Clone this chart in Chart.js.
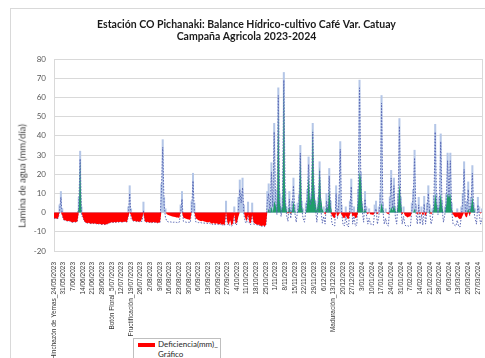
<!DOCTYPE html>
<html lang="es">
<head>
<meta charset="UTF-8">
<title>Balance Hídrico - Café Var. Catuay</title>
<style>
    body { margin: 0; background: #ffffff; overflow: hidden; font-family: Lato, "Liberation Sans", Arial, sans-serif; }
    #marco { position: absolute; left: 10px; top: 8px; width: 500px; height: 420px; border: 1px solid #d9d9d9; }
    #grafico { position: absolute; left: 11px; top: 9px; }
    #ytitulo { position: absolute; left: 22px; top: 176px; transform: translate(-50%, -50%) rotate(-90deg);
               white-space: nowrap; font-size: 9.5px; color: #404040; }
    #leyenda { position: absolute; left: 133px; top: 338px; width: 86px; height: 40px; background: #fff;
               border: 1px solid #bfbfbf; font-size: 8px; color: #262626; }
    #leyenda .muestra { position: absolute; left: 4px; top: 4px; width: 17px; height: 4px; background: #ff0000; }
    #leyenda .txt { position: absolute; left: 24px; top: 0px; line-height: 10px; }
</style>
<script src="https://cdn.jsdelivr.net/npm/chart.js"></script>
</head>
<body>
<div id="marco"></div>
<canvas id="grafico" width="484" height="400"></canvas>
<div id="ytitulo">Lamina de agua (mm/día)</div>
<div id="leyenda"><div class="muestra"></div><div class="txt">Deficiencia(mm)_<br>Gráfico</div></div>
<script>
// etiquetas semanales del eje x (una cada 7 dias)
var tickLabels = [
    'Hinchazón de Yemas_24/05/2023', '31/05/2023', '7/06/2023', '14/06/2023', '21/06/2023', '28/06/2023',
    'Botón Floral_5/07/2023', '12/07/2023', 'Fructificación_19/07/2023', '26/07/2023', '2/08/2023',
    '9/08/2023', '16/08/2023', '23/08/2023', '30/08/2023', '6/09/2023', '13/09/2023', '20/09/2023',
    '27/09/2023', '4/10/2023', '11/10/2023', '18/10/2023', '25/10/2023', '1/11/2023', '8/11/2023',
    '15/11/2023', '22/11/2023', '29/11/2023', '6/12/2023', 'Maduración_13/12/2023', '20/12/2023', '27/12/2023',
    '3/01/2024', '10/01/2024', '17/01/2024', '24/01/2024', '31/01/2024', '7/02/2024', '14/02/2024',
    '21/02/2024', '28/02/2024', '6/03/2024', '13/03/2024', '20/03/2024', '27/03/2024'
];

// precipitacion diaria (mm), una fila por semana
var precipitacion = [
    0,0,0,0,4,11,2,   0,0,0,0,0,0,0,   0,0,0,0,8,32,3,   0,0,0,0,0,0,0,
    0,0,0,0,0,0,0,    0,0,0,0,0,0,0,   0,0,0,0,0,0,0,    0,0,0,0,0,3,14,
    2,0,0,0,0,0,0,    0,0,5.5,0,0,0,0, 0,0,0,0,0,0,0,    0,15,38,8,2,0,0,
    0,0,0,0,0,0,0,    0,4,11,0,0,0,0,  0,0,6,20.5,5,0,0, 0,0,0,0,0,0,0,
    0,0,0,0,0,0,0,    0,0,0,0,0,0,6,   0,0,0,0,0,3,0,    0,8,17,10,18,4,0,
    0,5.5,0,0,5,0,0,  0,0,0,0,0,0,0,   0,11,15,5,26,8,46.5, 12,4,65,10,3,8,73,
    12,3,0,11,2,6,18, 4,0,5,9,35,6,2,  0,5,12,29,8,10,46.5, 14,6,0,8,26.5,5,0,
    3,0,10,4,23,6,0,  0,0,14,2,9,37,4, 0,0,3,0,0,6,17.5, 0,3,0,0,12,69,21,
    5,0,11,3,0,2,0,   0,0,4,6,0,3,10,  61,5,0,2,0,0,8,   22,6,18,3,0,10,49,
    8,0,3,0,0,0,0,    0,5,12,32.5,4,0,8, 0,3,0,8.5,0,5,14, 4,0,2,9,46,10,3,
    8,41,6,0,3,10,31, 12,31,5,0,0,0,2, 0,0,3,10,26.5,4,6, 16,3,8,24.5,5,2,0,
    8,3,0,2
];

// balance P - ETc (mm)
var balance = [
    -3,-3,-3.2,-3,0.5,8,-1.5,        -3.8,-4,-4.2,-4.5,-4.3,-4.6,-5,  -5,-4.8,-5,-4.5,4,28,-1.5,
    -2.5,-4.5,-5.2,-5.5,-5.3,-5.6,-5.8, -5.5,-5.8,-5.6,-5.9,-6,-5.8,-6.1, -6.2,-6,-6.3,-6.1,-5.8,-5.5,-5.2,
    -5,-5.2,-4.9,-5.1,-4.8,-5,-4.7,  -4.9,-5,-4.6,-4.8,-5,-2,10,       -3,-4,-4.5,-4.3,-4.7,-4.5,-4.8,
    -4.6,-4.5,1,-4.5,-5,-4.8,-5.1,   -5,-5.3,-4.9,-5.2,-5,-5.4,-5.1,   -5.2,10,34,4,-2.5,-4.5,-4.8,
    -5,-4.8,-5.2,-5,-4.9,-5.1,-5.3,  -5,-0.5,7,-4.5,-4.8,-5,-5.2,      -5,-5.2,1.5,16.5,1,-4.8,-5,
    -5.2,-5,-5.3,-5.5,-5.4,-5.6,-5.5, -5.8,-5.5,-6,-6.2,-5.8,-6.3,-6,  -6,-6.4,-6,-6.6,-6.3,-6.8,0,
    -6,-6.8,-6.2,-7,-6.5,-2.5,-6.5,  -6,2,12,5,13,-1,-5,              -5.5,0.5,-6,-6.2,0,-6,-6.3,
    -6.2,-6.6,-6.4,-7,-7.2,-6.8,-7.3, -6.5,6,10,0,21,3,42,             8,-1,61,6,-2,4,69,
    8,-1.5,-4.5,7,-3,2,14,           0,-5,1,5,31,2,-3,                -5,1,8,25,4,6,42,
    10,2,-5,4,22,1,-5.5,             -2,-6,6,0,19,2,-6,               -6.5,-7,10,-3,5,33,0,
    -6,-7,-2,-6.5,-7.5,2,13.5,       -6,-2,-7,-6.5,8,65,17,           1,-5,7,-1,-6,-3,-6,
    -6,-6.5,0,2,-6,-2,6,             57,1,-6,-3,-6.5,-7,4,            18,2,14,-2,-6,6,45,
    4,-6,-2,-6.5,-7,-6.8,-7.2,       -7,1,8,28.5,0,-6,4,              -6,-1,-6.5,4.5,-6,1,10,
    0,-6,-3,5,42,6,-1,               4,37,2,-5,-1,6,27,               8,27,1,-6,-6.5,-7,-4,
    -7,-7.5,-2,6,22.5,0,2,           12,-1.5,4,20.5,1,-3,-6,          4,-1,-6,-3
];

// deficiencia (mm, negativa)
var deficiencia = [
    -3,-3,-3.2,-3,0,0,-1.5,          -3.8,-4,-4.2,-4.5,-4.3,-4.6,-5,  -5,-4.8,-5,-4.5,0,0,0,
    -2.5,-4.5,-5.2,-5.5,-5.3,-5.6,-5.8, -5.5,-5.8,-5.6,-5.9,-6,-5.8,-6.1, -6.2,-6,-6.3,-6.1,-5.8,-5.5,-5.2,
    -5,-5.2,-4.9,-5.1,-4.8,-5,-4.7,  -4.9,-5,-4.6,-4.8,-5,-2,0,        -1.5,-4,-4.5,-4.3,-4.7,-4.5,-4.8,
    -4.6,-3,0,-4.5,-5,-4.8,-5.1,     -5,-5.3,-4.9,-5.2,-5,-5.4,-5.1,   -5.2,0,0,0,0,-0.8,-1.2,
    -1.5,-1.8,-2,-2.2,-2.3,-2.5,-2.6, -2.8,0,0,-2.5,-3,-3.2,-3.5,      -3.6,-3.8,0,0,0,-3,-3.5,
    -4,-4.3,-4.5,-4.2,-4.6,-4.8,-5,  -5.2,-4.8,-5.5,-5.8,-5.3,-6,-5.6, -5.8,-6.2,-5.5,-6.4,-6,-6.6,0,
    -5,-6.5,-4,-6.8,-5.5,-1,-6,      -5,-2,0,0,0,0,-3,                -4.5,-1,-5,-5.5,-1,-5,-5.8,
    -6,-6.5,-6.2,-6.8,-7,-6.6,-7.2,  -6.5,0,0,0,0,0,0,                0,0,0,0,0,0,0,
    0,0,-0.5,0,-0.5,0,0,             0,0,0,0,0,0,0,                   0,0,0,0,0,0,0,
    0,0,0,0,0,0,0,                   0,-1,0,0,0,0,-1.5,               -2.5,-3,0,-2,-1,0,-1,
    -2.5,-3,-1.5,-3,-3.5,-1,0,       -2,-1.5,-3,-2.5,0,0,0,           0,0,0,0,-1,0,-1,
    -1,-1.2,0,0,-0.8,0,0,            0,0,0,0,-0.5,-0.8,0,             0,0,0,0,0,0,0,
    0,-1,0,-1.5,-2,-2.5,-2,          -2,0,0,0,0,-1,0,                 -1,0,-1.5,0,-1.8,0,0,
    0,-1,0,0,0,0,0,                  0,0,0,0,0,0,0,                   0,0,0,-1,-2,-2.5,-2,
    -3,-3.4,-3,-1.5,0,-2,-2.5,       0,-1.5,0,0,0,0,0,                0,0,-0.5,0
];

// exceso (mm)
var exceso = [
    0,0,0,0,0,0,0,   0,0,0,0,0,0,0,   0,0,0,0,2,28,0,  0,0,0,0,0,0,0,
    0,0,0,0,0,0,0,   0,0,0,0,0,0,0,   0,0,0,0,0,0,0,   0,0,0,0,0,0,0,
    0,0,0,0,0,0,0,   0,0,0,0,0,0,0,   0,0,0,0,0,0,0,   0,0,0,0,0,0,0,
    0,0,0,0,0,0,0,   0,0,0,0,0,0,0,   0,0,0,0,0,0,0,   0,0,0,0,0,0,0,
    0,0,0,0,0,0,0,   0,0,0,0,0,0,0,   0,0,0,0,0,0,0,   0,0,0,0,0,0,0,
    0,0,0,0,0,0,0,   0,0,0,0,0,0,0,   0,0,2,0,3,0,6,   4,1,55,6,1,3,68,
    6,1,0,3,0,1,6,   1,0,0,3,30,4,0,  0,0,5,20,6,8,44, 12,5,1,6,24,8,2,
    0,0,3,2,12,4,0,  0,0,0,0,0,0,0,   0,0,0,0,0,0,0,   0,0,0,0,6,21,18,
    4,0,2,0,0,0,0,   0,0,0,0,0,0,0,   5,2,0,0,0,0,0,   3,1,4,1,0,4,15,
    6,0,0,0,0,0,0,   0,0,0,2,0,0,0,   0,0,0,0,0,0,0,   1,0,0,2,10,5,0,
    3,10,3,0,0,4,10, 8,10,2,0,0,0,0,  0,0,0,0,0,0,0,   2,0,3,8,3,0,0,
    0,0,0,0
];

var yTicks = [-20, -10, 0, 10, 20, 30, 40, 50, 60, 70, 80];

var categorias = precipitacion.map(function (v, i) {
    return i % 7 === 0 ? tickLabels[i / 7] : '';
});

// marco del area de trazado
var marcoArea = {
    id: 'marcoArea',
    beforeDatasetsDraw: function (chart) {
        var a = chart.chartArea, c = chart.ctx;
        c.save();
        c.strokeStyle = '#d9d9d9';
        c.lineWidth = 1;
        c.strokeRect(Math.round(a.left) + 0.5, Math.round(a.top) + 0.5, Math.round(a.right - a.left), Math.round(a.bottom - a.top));
        c.restore();
    }
};

var ctx = document.getElementById('grafico').getContext('2d');
new Chart(ctx, {
    type: 'bar',
    data: {
        labels: categorias,
        datasets: [{
            type: 'line',
            label: 'Deficiencia(mm)',
            data: deficiencia,
            backgroundColor: '#ff0000',
            borderColor: 'rgba(0,0,0,0)',
            borderWidth: 0,
            pointRadius: 0,
            tension: 0,
            fill: 'origin',
            order: 0
        }, {
            type: 'line',
            label: 'Balance',
            data: balance,
            borderColor: '#5a68b4',
            borderWidth: 1,
            borderDash: [1.5, 1.5],
            pointRadius: 0,
            tension: 0,
            fill: false,
            order: 1
        }, {
            type: 'line',
            label: 'Exceso(mm)',
            data: exceso,
            backgroundColor: '#1f9d6a',
            borderColor: 'rgba(0,0,0,0)',
            borderWidth: 0,
            pointRadius: 0,
            tension: 0,
            fill: 'origin',
            order: 2
        }, {
            type: 'bar',
            label: 'Precipitación(mm)',
            data: precipitacion,
            backgroundColor: '#b4c6e7',
            barPercentage: 1,
            categoryPercentage: 1,
            order: 3
        }]
    },
    options: {
        responsive: false,
        animation: false,
        layout: { padding: { left: 0, right: 13, top: 0, bottom: 0 } },
        plugins: {
            legend: { display: false },
            tooltip: { enabled: false },
            title: {
                display: true,
                text: ['Estación CO Pichanaki: Balance Hídrico-cultivo Café Var. Catuay', 'Campaña Agricola 2023-2024'],
                color: '#1a1a1a',
                font: { family: 'Lato', size: 10.5, weight: 'bold', lineHeight: 1.12 },
                padding: { top: 10, bottom: 16.5 }
            }
        },
        scales: {
            x: {
                offset: false,
                grid: { display: false },
                border: { display: true, color: '#d9d9d9' },
                ticks: {
                    autoSkip: false,
                    minRotation: 90,
                    maxRotation: 90,
                    padding: 3,
                    color: '#333333',
                    font: { family: 'Liberation Sans', size: 6.5 },
                    callback: function (v, i) { return categorias[i]; }
                },
                afterFit: function (s) { s.height = 158; }
            },
            y: {
                min: -20,
                max: 80,
                afterBuildTicks: function (s) { s.ticks = yTicks.map(function (v) { return { value: v }; }); },
                grid: { color: '#d9d9d9', drawTicks: false },
                border: { display: true, color: '#d9d9d9' },
                ticks: {
                    padding: 8,
                    color: '#595959',
                    font: { family: 'Lato', size: 8 }
                },
                afterFit: function (s) { s.width = 43; }
            }
        }
    },
    plugins: [marcoArea]
});
</script>
</body>
</html>
